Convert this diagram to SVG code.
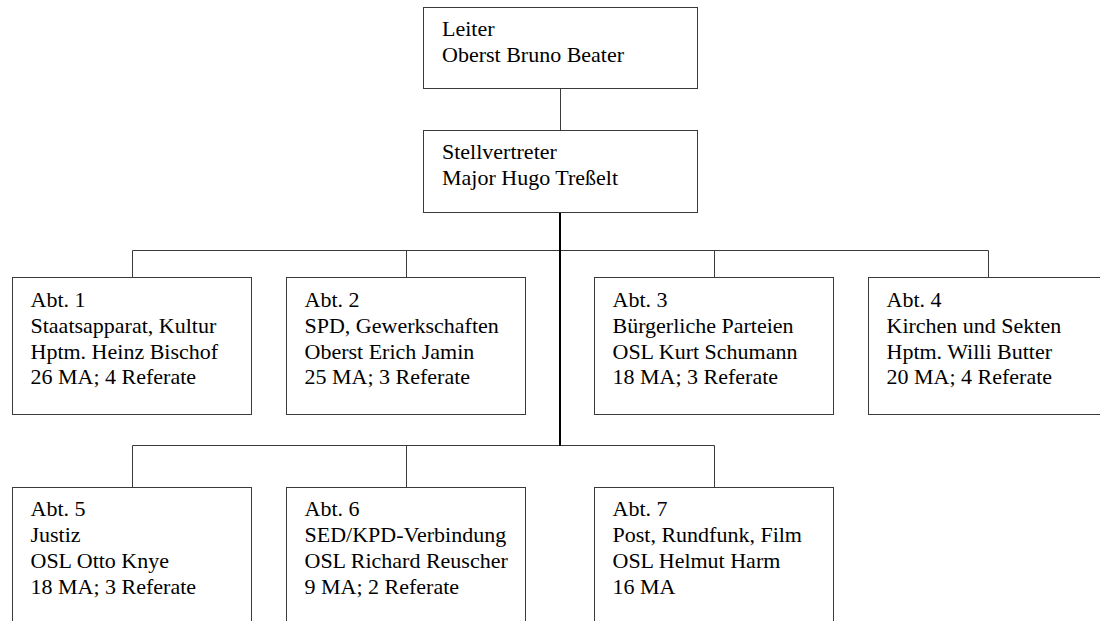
<svg xmlns="http://www.w3.org/2000/svg" width="1100" height="621" viewBox="0 0 1100 621">
<style>
.box{fill:#fff;stroke:#3a3a3a;stroke-width:1}
.t{font-family:'Liberation Serif','Times New Roman',Tinos,'DejaVu Serif',serif;font-size:22px;fill:#000}
.c{stroke:#3a3a3a;stroke-width:1;fill:none}
.thick{stroke:#000;stroke-width:2;fill:none}
</style>
<rect width="1100" height="621" fill="#fff"/>
<g id="connectors">
<line class="c" x1="560.5" y1="88" x2="560.5" y2="130"/>
<line class="c" x1="132.5" y1="250.5" x2="988.5" y2="250.5"/>
<line class="c" x1="132.5" y1="250.5" x2="132.5" y2="277.5"/>
<line class="c" x1="406.5" y1="250.5" x2="406.5" y2="277.5"/>
<line class="c" x1="714.5" y1="250.5" x2="714.5" y2="277.5"/>
<line class="c" x1="988.5" y1="250.5" x2="988.5" y2="277.5"/>
<line class="c" x1="132.5" y1="445.5" x2="714.5" y2="445.5"/>
<line class="c" x1="132.5" y1="445.5" x2="132.5" y2="487.5"/>
<line class="c" x1="406.5" y1="445.5" x2="406.5" y2="487.5"/>
<line class="c" x1="714.5" y1="445.5" x2="714.5" y2="487.5"/>
<line class="thick" x1="560" y1="212.5" x2="560" y2="446"/>
</g>
<g id="leiter">
<rect class="box" x="423.5" y="7.5" width="274" height="81"/>
<text class="t" font-family="Liberation Serif" x="442" y="36">Leiter</text>
<text class="t" font-family="Liberation Serif" x="442" y="62">Oberst Bruno Beater</text>
</g>
<g id="stellvertreter">
<rect class="box" x="423.5" y="130.5" width="274" height="82"/>
<text class="t" x="442" y="159">Stellvertreter</text>
<text class="t" x="442" y="185">Major Hugo Treßelt</text>
</g>
<g id="abt1">
<rect class="box" x="12.5" y="277.5" width="239" height="137"/>
<text class="t" x="30.5" y="306.5">Abt. 1</text>
<text class="t" x="30.5" y="332.5">Staatsapparat, Kultur</text>
<text class="t" x="30.5" y="358.5">Hptm. Heinz Bischof</text>
<text class="t" x="30.5" y="384">26 MA; 4 Referate</text>
</g>
<g id="abt2">
<rect class="box" x="286.5" y="277.5" width="239" height="137"/>
<text class="t" x="304.5" y="306.5">Abt. 2</text>
<text class="t" x="304.5" y="332.5">SPD, Gewerkschaften</text>
<text class="t" x="304.5" y="358.5">Oberst Erich Jamin</text>
<text class="t" x="304.5" y="384">25 MA; 3 Referate</text>
</g>
<g id="abt3">
<rect class="box" x="594.5" y="277.5" width="239" height="137"/>
<text class="t" x="612.5" y="306.5">Abt. 3</text>
<text class="t" x="612.5" y="332.5">Bürgerliche Parteien</text>
<text class="t" x="612.5" y="358.5">OSL Kurt Schumann</text>
<text class="t" x="612.5" y="384">18 MA; 3 Referate</text>
</g>
<g id="abt4">
<rect class="box" x="868.5" y="277.5" width="260" height="137"/>
<text class="t" x="886.5" y="306.5">Abt. 4</text>
<text class="t" x="886.5" y="332.5">Kirchen und Sekten</text>
<text class="t" x="886.5" y="358.5">Hptm. Willi Butter</text>
<text class="t" x="886.5" y="384">20 MA; 4 Referate</text>
</g>
<g id="abt5">
<rect class="box" x="12.5" y="487.5" width="239" height="160"/>
<text class="t" x="30.5" y="516">Abt. 5</text>
<text class="t" x="30.5" y="542">Justiz</text>
<text class="t" x="30.5" y="568">OSL Otto Knye</text>
<text class="t" x="30.5" y="594">18 MA; 3 Referate</text>
</g>
<g id="abt6">
<rect class="box" x="286.5" y="487.5" width="239" height="160"/>
<text class="t" x="304.5" y="516">Abt. 6</text>
<text class="t" x="304.5" y="542">SED/KPD-Verbindung</text>
<text class="t" x="304.5" y="568">OSL Richard Reuscher</text>
<text class="t" x="304.5" y="594">9 MA; 2 Referate</text>
</g>
<g id="abt7">
<rect class="box" x="594.5" y="487.5" width="239" height="160"/>
<text class="t" x="612.5" y="516">Abt. 7</text>
<text class="t" x="612.5" y="542">Post, Rundfunk, Film</text>
<text class="t" x="612.5" y="568">OSL Helmut Harm</text>
<text class="t" x="612.5" y="594">16 MA</text>
</g>
</svg>
